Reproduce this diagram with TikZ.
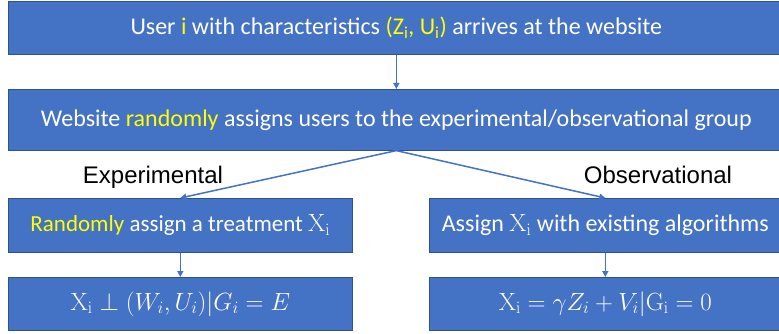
\documentclass[tikz,border=0pt]{standalone}
\usepackage[no-math]{fontspec}
\setmainfont{Carlito}
\newfontfamily\labelfont{Liberation Sans}
\usetikzlibrary{arrows.meta}
\definecolor{boxblue}{HTML}{4472C4}
\definecolor{boxedge}{HTML}{2F528F}
\definecolor{hl}{HTML}{FFFF00}
\tikzset{
  box/.style={draw=boxedge, line width=0.6pt, fill=boxblue, text=white, inner sep=0pt,
    anchor=north west, font=\fontsize{24}{28}\selectfont},
  conn/.style={draw=boxblue, line width=1.5pt, -{Triangle[length=6pt,width=6pt]}},
  grouplabel/.style={font=\labelfont\fontsize{24}{28}\selectfont, text=black, inner sep=0pt, anchor=base}
}
\begin{document}
\begin{tikzpicture}[x=1pt,y=-1pt]
\useasboundingbox (0,0) rectangle (779,334);
\node[box, minimum width=776pt, minimum height=53pt] (b1) at (8,1)
  {User {\color{hl}i} with characteristics {\color{hl}(Z\textsubscript{i}, U\textsubscript{i})} arrives at the website};
\node[box, minimum width=776pt, minimum height=61pt] (b2) at (8,89)
  {Website {\color{hl}randomly} assigns users to the experimental/observational group};
\node[box, minimum width=344pt, minimum height=54pt, font=\fontsize{23}{27}\selectfont] (b3) at (8,198)
  {{\color{hl}Randomly} assign a treatment $\mathrm{X_i}$};
\node[box, minimum width=344pt, minimum height=53pt, font=\fontsize{23}{27}\selectfont] (b4) at (8,277)
  {$\mathrm{X_i} \perp (W_i, U_i) | G_i = E$};
\node[box, minimum width=352pt, minimum height=54pt] (b5) at (429,198)
  {Assign $\mathrm{X_i}$ with existing algorithms};
\node[box, minimum width=352pt, minimum height=53pt, font=\fontsize{23}{27}\selectfont] (b6) at (429,277)
  {$\mathrm{X_i} = \gamma Z_i + V_i | \mathrm{G_i} = 0$};
\node[grouplabel] (lexp) at (153,183) {Experimental};
\node[grouplabel] (lobs) at (658,183) {Observational};
\draw[conn] (b1.south) -- (b2.north);
\draw[conn] (b2.south) -- (b3.north);
\draw[conn] (b2.south) -- (b5.north);
\draw[conn] (b3.south) -- (b4.north);
\draw[conn] (b5.south) -- (b6.north);
\end{tikzpicture}
\end{document}
